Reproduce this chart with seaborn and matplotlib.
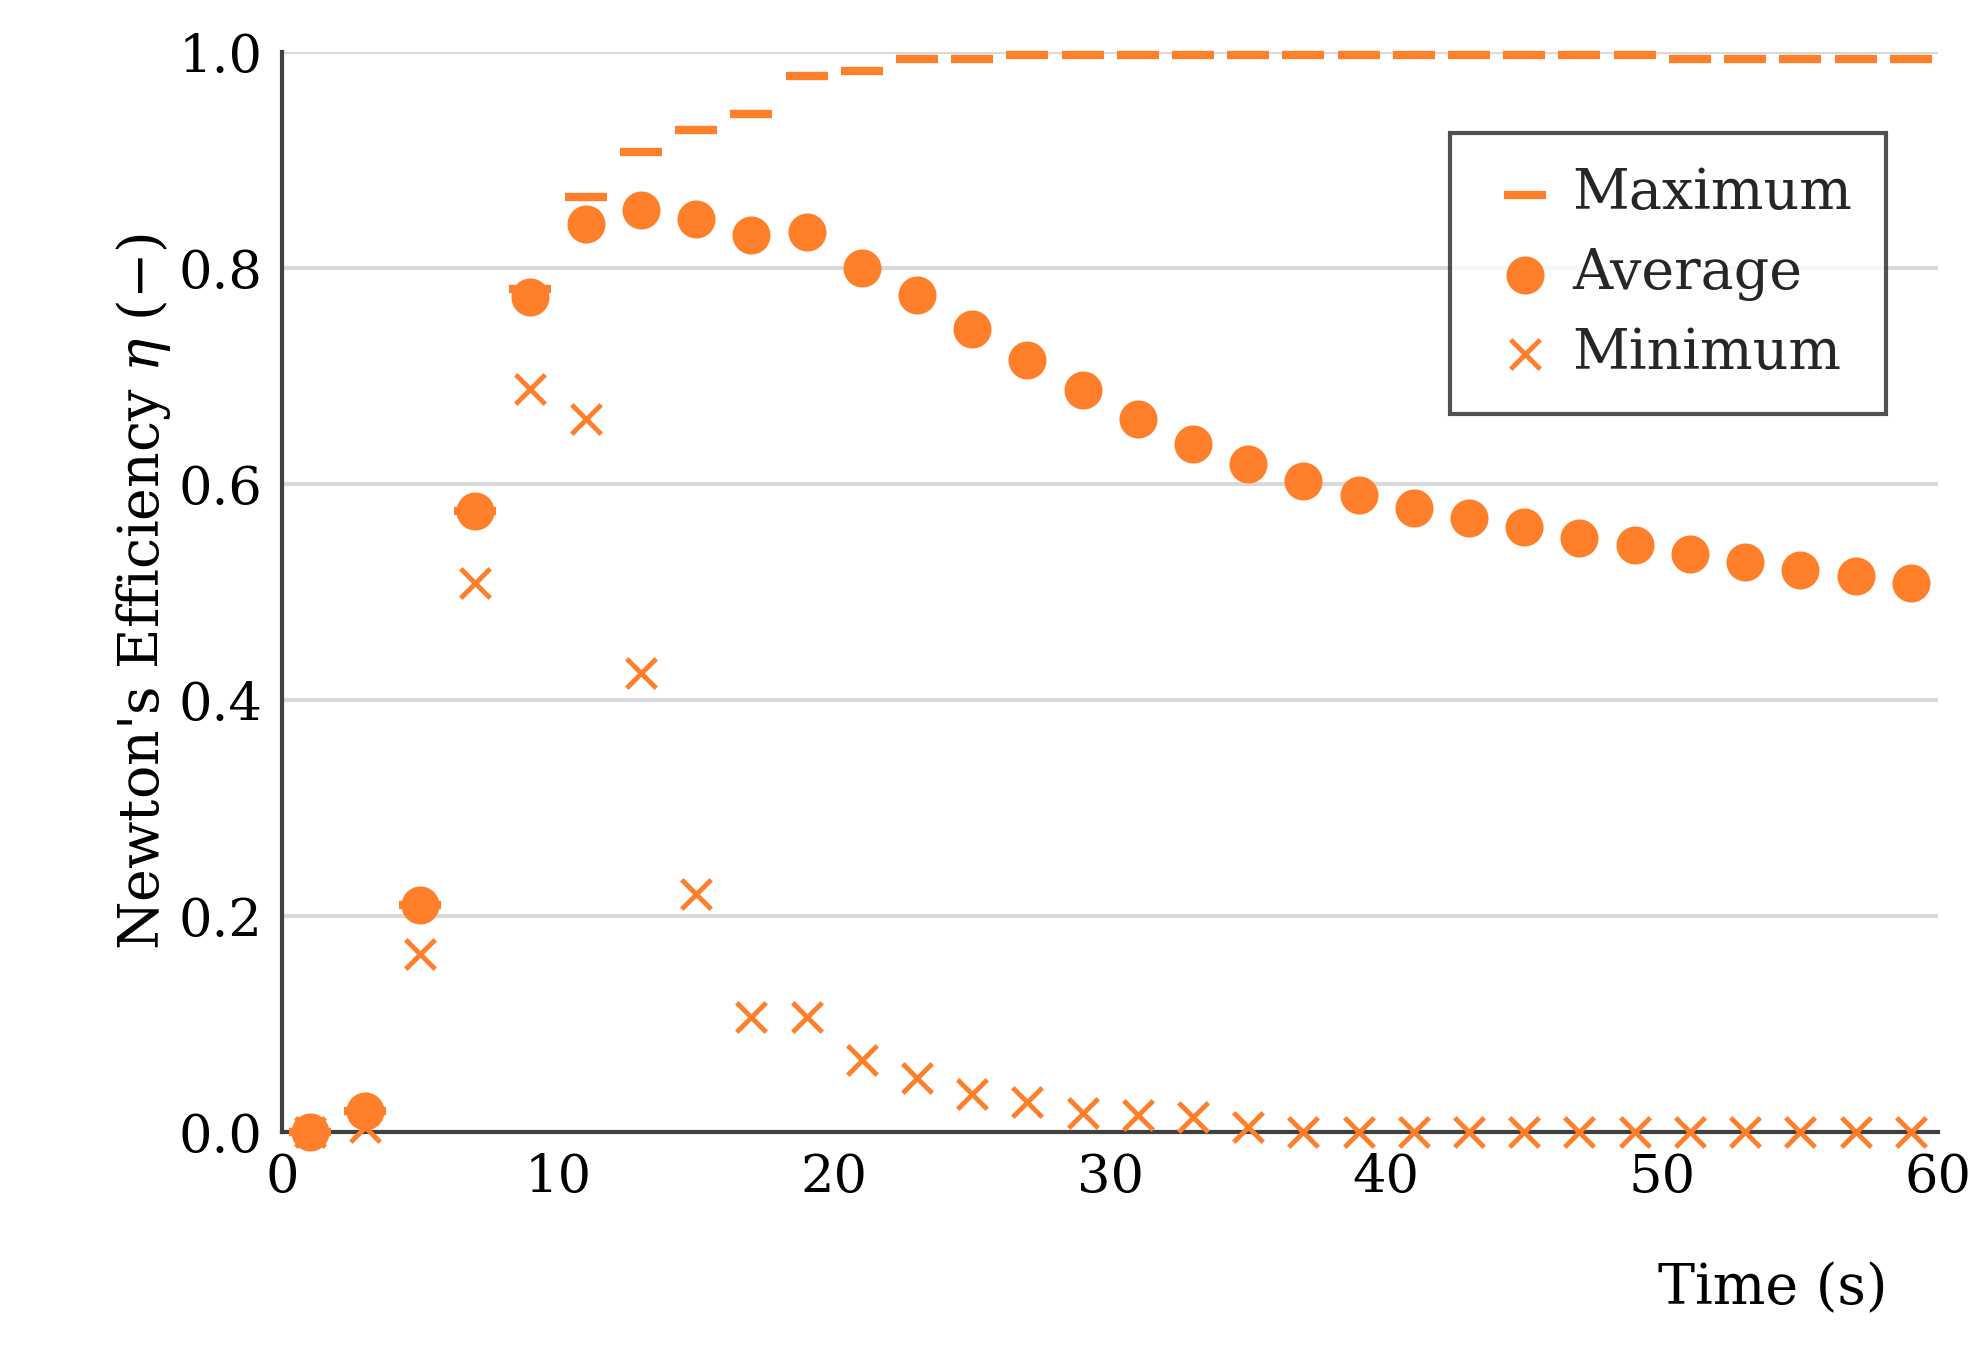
import matplotlib
matplotlib.use("Agg")
import matplotlib.pyplot as plt
import seaborn as sns
import pandas as pd

time_s = [1,3,5,7,9,11,13,15,17,19,21,23,25,27,29,31,33,35,37,39,41,43,45,47,49,51,53,55,57,59]
maximum = [0.0,0.02,0.21,0.575,0.78,0.865,0.907,0.927,0.942,0.977,0.982,0.993,0.993,0.997,0.997,0.997,0.997,0.997,0.997,0.997,0.997,0.997,0.997,0.997,0.997,0.993,0.993,0.993,0.993,0.993]
average = [0.0,0.02,0.21,0.575,0.773,0.84,0.853,0.845,0.83,0.833,0.80,0.775,0.743,0.715,0.687,0.66,0.637,0.618,0.603,0.59,0.578,0.568,0.56,0.55,0.543,0.535,0.528,0.52,0.515,0.508]
minimum = [0.0,0.005,0.165,0.508,0.688,0.66,0.425,0.22,0.107,0.107,0.067,0.05,0.035,0.028,0.018,0.016,0.014,0.005,0.0,0.0,0.0,0.0,0.0,0.0,0.0,0.0,0.0,0.0,0.0,0.0]

c = "#FF7F2A"
sns.set_style("white")
plt.rcParams["font.family"] = "DejaVu Serif"
plt.rcParams["mathtext.fontset"] = "dejavuserif"
fig = plt.figure(figsize=(19.86, 13.56), dpi=100)
ax = fig.add_axes([0.142, 0.165, 0.834, 0.797])
df = pd.DataFrame({"t": time_s, "max": maximum, "avg": average, "min": minimum})
sns.scatterplot(data=df, x="t", y="max", marker="_", s=900, linewidth=6, color=c, ax=ax, label="Maximum", zorder=3)
sns.scatterplot(data=df, x="t", y="avg", marker="o", s=750, linewidth=0, color=c, ax=ax, label="Average", zorder=4)
sns.scatterplot(data=df, x="t", y="min", marker="x", s=450, linewidth=3.5, color=c, ax=ax, label="Minimum", zorder=5)
ax.set_xlim(0, 60)
ax.set_ylim(0, 1.0)
ax.set_xticks([0,10,20,30,40,50,60])
ax.set_yticks([0,0.2,0.4,0.6,0.8,1.0])
ax.set_yticklabels(["0.0","0.2","0.4","0.6","0.8","1.0"])
ax.yaxis.grid(True, color="#D9D9D9", linewidth=3)
ax.set_axisbelow(True)
for s in ["top", "right"]:
    ax.spines[s].set_visible(False)
for s in ["left", "bottom"]:
    ax.spines[s].set_color("#404040")
    ax.spines[s].set_linewidth(3)
ax.tick_params(length=0, labelsize=38, pad=14, colors="black")
ax.set_ylabel(r"Newton's Efficiency $\eta$ (−)", fontsize=40, color="black")
ax.set_xlabel("Time (s)", fontsize=40, color="black")
ax.xaxis.set_label_coords(0.9, -0.12)
leg = ax.legend(loc="upper right", bbox_to_anchor=(0.985, 0.95), fontsize=40, frameon=True, fancybox=False,
                edgecolor="#262626", borderpad=0.6, handletextpad=0.1, labelspacing=0.45, handlelength=1.5)
leg.get_frame().set_linewidth(3)
for coll in ax.collections:
    coll.set_clip_on(False)
fig.savefig("out.png", dpi=100)
